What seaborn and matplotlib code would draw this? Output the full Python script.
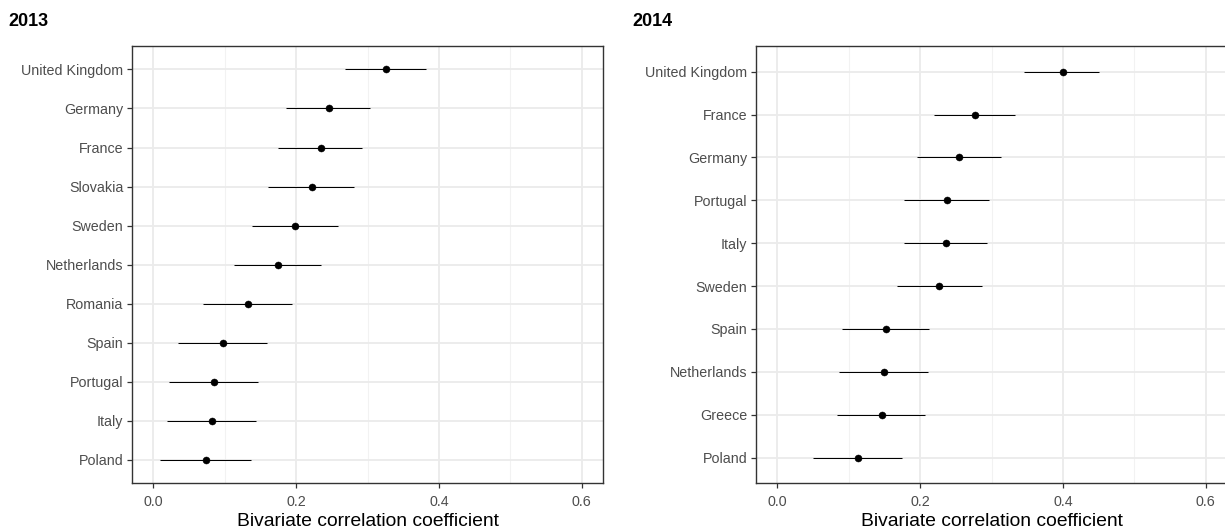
import numpy as np
import pandas as pd
import matplotlib
matplotlib.use("Agg")
import matplotlib.pyplot as plt
import seaborn as sns
from matplotlib.ticker import MultipleLocator

# 2013 estimates with 95% confidence bounds (top to bottom)
countries_2013 = ["United Kingdom", "Germany", "France", "Slovakia", "Sweden",
                  "Netherlands", "Romania", "Spain", "Portugal", "Italy", "Poland"]
est_2013 = [0.326, 0.246, 0.235, 0.222, 0.199, 0.175, 0.132, 0.098, 0.085, 0.082, 0.074]
low_2013 = [0.269, 0.186, 0.175, 0.161, 0.138, 0.113, 0.070, 0.035, 0.022, 0.019, 0.009]
high_2013 = [0.382, 0.304, 0.292, 0.281, 0.259, 0.235, 0.194, 0.159, 0.146, 0.144, 0.137]

# 2014 estimates with 95% confidence bounds (top to bottom)
countries_2014 = ["United Kingdom", "France", "Germany", "Portugal", "Italy",
                  "Sweden", "Spain", "Netherlands", "Greece", "Poland"]
est_2014 = [0.400, 0.277, 0.255, 0.238, 0.236, 0.227, 0.152, 0.150, 0.147, 0.113]
low_2014 = [0.345, 0.220, 0.196, 0.178, 0.177, 0.167, 0.091, 0.087, 0.084, 0.050]
high_2014 = [0.450, 0.333, 0.313, 0.296, 0.294, 0.287, 0.212, 0.211, 0.207, 0.175]

x_ticks = [0.0, 0.2, 0.4, 0.6]
x_tick_labels = ["0.0", "0.2", "0.4", "0.6"]
x_label = "Bivariate correlation coefficient"

sns.set_theme(style="white")
plt.rcParams["font.family"] = ["Liberation Sans", "DejaVu Sans"]

W, H = 1225, 529
fig = plt.figure(figsize=(W / 100, H / 100), dpi=100)

grey20 = "#333333"
grey30 = "#4D4D4D"
grid_major = "#EBEBEB"


def draw_panel(ax, title, title_x, countries, est, low, high):
    df = pd.DataFrame({"country": countries, "est": est, "low": low, "high": high})
    df["pos"] = np.arange(len(df))
    n = len(df)

    ax.hlines(df["pos"], df["low"], df["high"], color="black", lw=0.75, zorder=3)
    sns.scatterplot(data=df, x="est", y="pos", ax=ax, color="black", s=26,
                    edgecolor="black", linewidth=0.3, zorder=4, legend=False)

    ax.set_xlim(-0.03, 0.63)
    ax.set_ylim(n - 1 + 0.6, -0.6)
    ax.set_xticks(x_ticks)
    ax.set_xticklabels(x_tick_labels)
    ax.xaxis.set_minor_locator(MultipleLocator(0.1))
    ax.set_yticks(df["pos"])
    ax.set_yticklabels(df["country"])

    ax.grid(which="major", axis="both", color=grid_major, lw=1.3, zorder=0)
    ax.grid(which="minor", axis="x", color="#F2F2F2", lw=0.8, zorder=0)
    ax.set_axisbelow(True)

    for sp in ax.spines.values():
        sp.set_color(grey20)
        sp.set_linewidth(1.0)
        sp.set_visible(True)

    ax.tick_params(axis="both", which="major", length=3.6, width=0.9, color=grey20,
                   labelcolor=grey30, labelsize=10.3, pad=2.6, left=True, bottom=True)
    ax.tick_params(axis="x", which="major", pad=4.8)
    ax.tick_params(axis="x", which="minor", length=0)
    ax.set_ylabel("")
    ax.set_xlabel(x_label, fontsize=13.9, color="black", labelpad=3.2)

    fig.text(title_x / W, 1 - 26 / H, title, fontsize=13, fontweight="bold",
             color="black", ha="left", va="baseline")


ax_w = 471 / W
ax_b = (H - 483.3) / H
ax_h = (483.3 - 46) / H

ax1 = fig.add_axes([132 / W, ax_b, ax_w, ax_h])
ax2 = fig.add_axes([756 / W, ax_b, ax_w, ax_h])

draw_panel(ax1, "2013", 8, countries_2013, est_2013, low_2013, high_2013)
draw_panel(ax2, "2014", 632, countries_2014, est_2014, low_2014, high_2014)

fig.savefig("out.png", dpi=100, facecolor="white")
